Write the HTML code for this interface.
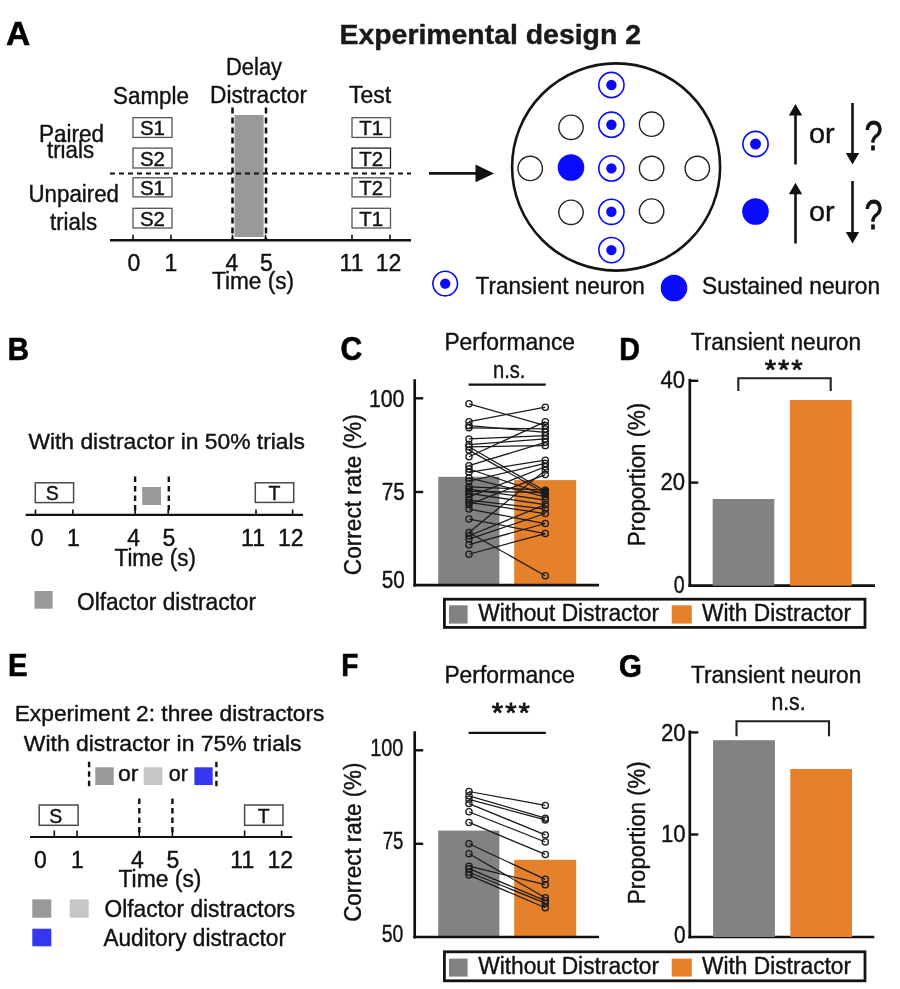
<!DOCTYPE html>
<html lang="en"><head><meta charset="utf-8"><title>Experimental design 2</title>
<style>
html,body{margin:0;padding:0;background:#fff;}
body{width:900px;height:989px;overflow:hidden;}
svg{display:block;filter:blur(0.45px);font-family:"Liberation Sans",Arial,Helvetica,sans-serif;}
text{stroke:#151515;stroke-width:0.4px;stroke-linejoin:round;}
</style></head><body>
<svg width="900" height="989" viewBox="0 0 900 989">
<rect x="0" y="0" width="900" height="989" fill="#ffffff"/>
<!-- Panel A -->
<text x="6.00" y="44.70" font-size="33" textLength="24.26" lengthAdjust="spacingAndGlyphs" font-weight="bold" fill="#000" style="stroke:#000;stroke-width:0.6px">A</text>
<text x="339.50" y="43.60" font-size="27" textLength="301.47" lengthAdjust="spacingAndGlyphs" font-weight="bold" fill="#1a1a1a">Experimental design 2</text>
<text x="113.00" y="104.00" font-size="23" textLength="75.98" lengthAdjust="spacingAndGlyphs" fill="#111">Sample</text>
<text x="226.00" y="75.40" font-size="23" textLength="56.05" lengthAdjust="spacingAndGlyphs" fill="#111">Delay</text>
<text x="210.00" y="103.40" font-size="23" textLength="97.03" lengthAdjust="spacingAndGlyphs" fill="#111">Distractor</text>
<text x="349.00" y="103.00" font-size="23" textLength="42.06" lengthAdjust="spacingAndGlyphs" fill="#111">Test</text>
<rect x="133.00" y="117.70" width="39.00" height="19.70" fill="#fff" stroke="#555" stroke-width="1.3"/>
<text x="139.94" y="135.20" font-size="20.5" textLength="25.07" lengthAdjust="spacingAndGlyphs" fill="#111">S1</text>
<rect x="352.00" y="117.70" width="38.50" height="19.70" fill="#fff" stroke="#555" stroke-width="1.3"/>
<text x="359.31" y="135.20" font-size="20.5" textLength="23.92" lengthAdjust="spacingAndGlyphs" fill="#111">T1</text>
<rect x="133.00" y="148.10" width="39.00" height="19.90" fill="#fff" stroke="#555" stroke-width="1.3"/>
<text x="139.94" y="165.80" font-size="20.5" textLength="25.07" lengthAdjust="spacingAndGlyphs" fill="#111">S2</text>
<rect x="352.00" y="148.10" width="38.50" height="19.90" fill="#fff" stroke="#222" stroke-width="1.3"/>
<text x="359.31" y="165.80" font-size="20.5" textLength="23.92" lengthAdjust="spacingAndGlyphs" fill="#111">T2</text>
<rect x="133.00" y="177.80" width="39.00" height="19.10" fill="#fff" stroke="#555" stroke-width="1.3"/>
<text x="139.94" y="194.70" font-size="20.5" textLength="25.07" lengthAdjust="spacingAndGlyphs" fill="#111">S1</text>
<rect x="352.00" y="177.80" width="38.50" height="19.10" fill="#fff" stroke="#555" stroke-width="1.3"/>
<text x="359.31" y="194.70" font-size="20.5" textLength="23.92" lengthAdjust="spacingAndGlyphs" fill="#111">T2</text>
<rect x="133.00" y="208.30" width="39.00" height="19.70" fill="#fff" stroke="#555" stroke-width="1.3"/>
<text x="139.94" y="225.80" font-size="20.5" textLength="25.07" lengthAdjust="spacingAndGlyphs" fill="#111">S2</text>
<rect x="352.00" y="208.30" width="38.50" height="19.70" fill="#fff" stroke="#555" stroke-width="1.3"/>
<text x="359.31" y="225.80" font-size="20.5" textLength="23.92" lengthAdjust="spacingAndGlyphs" fill="#111">T1</text>
<rect x="234.50" y="115.00" width="29.10" height="122.00" fill="#999999"/>
<line x1="110.00" y1="173.50" x2="411.00" y2="173.50" stroke="#111" stroke-width="2" stroke-dasharray="5 4" stroke-linecap="butt"/>
<line x1="232.50" y1="107.50" x2="232.50" y2="240.00" stroke="#111" stroke-width="2.5" stroke-dasharray="6 4" stroke-linecap="butt"/>
<line x1="266.00" y1="107.50" x2="266.00" y2="240.00" stroke="#111" stroke-width="2.5" stroke-dasharray="6 4" stroke-linecap="butt"/>
<line x1="110.00" y1="240.20" x2="411.00" y2="240.20" stroke="#111" stroke-width="2.4" stroke-linecap="butt"/>
<line x1="133.00" y1="234.80" x2="133.00" y2="240.00" stroke="#111" stroke-width="1.6" stroke-linecap="butt"/>
<line x1="171.00" y1="234.80" x2="171.00" y2="240.00" stroke="#111" stroke-width="1.6" stroke-linecap="butt"/>
<line x1="232.50" y1="234.80" x2="232.50" y2="240.00" stroke="#111" stroke-width="1.6" stroke-linecap="butt"/>
<line x1="265.50" y1="234.80" x2="265.50" y2="240.00" stroke="#111" stroke-width="1.6" stroke-linecap="butt"/>
<line x1="352.00" y1="234.80" x2="352.00" y2="240.00" stroke="#111" stroke-width="1.6" stroke-linecap="butt"/>
<line x1="390.00" y1="234.80" x2="390.00" y2="240.00" stroke="#111" stroke-width="1.6" stroke-linecap="butt"/>
<text x="127.43" y="270.80" font-size="23" textLength="12.79" lengthAdjust="spacingAndGlyphs" fill="#111">0</text>
<text x="164.62" y="270.80" font-size="23" textLength="12.79" lengthAdjust="spacingAndGlyphs" fill="#111">1</text>
<text x="225.62" y="270.80" font-size="23" textLength="12.79" lengthAdjust="spacingAndGlyphs" fill="#111">4</text>
<text x="259.93" y="270.80" font-size="23" textLength="12.79" lengthAdjust="spacingAndGlyphs" fill="#111">5</text>
<text x="339.56" y="270.80" font-size="23" textLength="23.88" lengthAdjust="spacingAndGlyphs" fill="#111">11</text>
<text x="375.79" y="270.80" font-size="23" textLength="25.58" lengthAdjust="spacingAndGlyphs" fill="#111">12</text>
<text x="212.00" y="289.00" font-size="23" textLength="81.97" lengthAdjust="spacingAndGlyphs" fill="#111">Time (s)</text>
<text x="39.00" y="141.60" font-size="23" textLength="64.98" lengthAdjust="spacingAndGlyphs" fill="#111">Paired</text>
<text x="47.00" y="158.20" font-size="23" textLength="47.06" lengthAdjust="spacingAndGlyphs" fill="#111">trials</text>
<text x="28.50" y="201.50" font-size="23" textLength="90.46" lengthAdjust="spacingAndGlyphs" fill="#111">Unpaired</text>
<text x="50.00" y="230.00" font-size="23" textLength="47.06" lengthAdjust="spacingAndGlyphs" fill="#111">trials</text>
<line x1="429.00" y1="173.40" x2="478.00" y2="173.40" stroke="#111" stroke-width="2.7" stroke-linecap="butt"/>
<polygon points="494.00,173.40 475.50,164.50 475.50,182.30" fill="#111"/>
<ellipse cx="616.1" cy="167" rx="104" ry="103.6" fill="none" stroke="#141414" stroke-width="2.6"/>
<circle cx="611.40" cy="85.00" r="12.60" fill="#fff" stroke="#0a0aff" stroke-width="1.6"/>
<circle cx="611.40" cy="85.00" r="5.20" fill="#0a0aff"/>
<circle cx="611.40" cy="124.70" r="12.60" fill="#fff" stroke="#0a0aff" stroke-width="1.6"/>
<circle cx="611.40" cy="124.70" r="5.20" fill="#0a0aff"/>
<circle cx="611.40" cy="168.40" r="12.60" fill="#fff" stroke="#0a0aff" stroke-width="1.6"/>
<circle cx="611.40" cy="168.40" r="5.20" fill="#0a0aff"/>
<circle cx="611.40" cy="211.80" r="12.60" fill="#fff" stroke="#0a0aff" stroke-width="1.6"/>
<circle cx="611.40" cy="211.80" r="5.20" fill="#0a0aff"/>
<circle cx="611.40" cy="250.10" r="12.60" fill="#fff" stroke="#0a0aff" stroke-width="1.6"/>
<circle cx="611.40" cy="250.10" r="5.20" fill="#0a0aff"/>
<circle cx="571.00" cy="127.30" r="12.20" fill="#fff" stroke="#222" stroke-width="1.4"/>
<circle cx="651.60" cy="124.20" r="12.20" fill="#fff" stroke="#222" stroke-width="1.4"/>
<circle cx="530.20" cy="168.40" r="12.20" fill="#fff" stroke="#222" stroke-width="1.4"/>
<circle cx="651.60" cy="168.40" r="12.20" fill="#fff" stroke="#222" stroke-width="1.4"/>
<circle cx="697.30" cy="168.40" r="12.20" fill="#fff" stroke="#222" stroke-width="1.4"/>
<circle cx="571.00" cy="212.30" r="12.20" fill="#fff" stroke="#222" stroke-width="1.4"/>
<circle cx="651.60" cy="211.10" r="12.20" fill="#fff" stroke="#222" stroke-width="1.4"/>
<circle cx="571.00" cy="167.50" r="13.30" fill="#0a0aff"/>
<circle cx="445.20" cy="283.60" r="12.30" fill="#fff" stroke="#0a0aff" stroke-width="1.6"/>
<circle cx="445.20" cy="283.60" r="5.20" fill="#0a0aff"/>
<text x="475.60" y="293.50" font-size="24" textLength="169.15" lengthAdjust="spacingAndGlyphs" fill="#111">Transient neuron</text>
<circle cx="674.00" cy="288.00" r="13.30" fill="#0a0aff"/>
<text x="702.00" y="294.00" font-size="24" textLength="178.02" lengthAdjust="spacingAndGlyphs" fill="#111">Sustained neuron</text>
<circle cx="755.50" cy="144.00" r="12.60" fill="#fff" stroke="#0a0aff" stroke-width="1.6"/>
<circle cx="755.50" cy="144.00" r="5.50" fill="#0a0aff"/>
<circle cx="755.50" cy="211.50" r="13.30" fill="#0a0aff"/>
<line x1="795.50" y1="112.00" x2="795.50" y2="164.50" stroke="#111" stroke-width="2.6" stroke-linecap="butt"/>
<polygon points="795.50,104.00 788.80,115.50 802.20,115.50" fill="#111"/>
<line x1="852.50" y1="103.00" x2="852.50" y2="156.50" stroke="#111" stroke-width="2.6" stroke-linecap="butt"/>
<polygon points="852.50,164.50 845.80,153.00 859.20,153.00" fill="#111"/>
<line x1="795.50" y1="190.70" x2="795.50" y2="243.50" stroke="#111" stroke-width="2.6" stroke-linecap="butt"/>
<polygon points="795.50,182.70 788.80,194.20 802.20,194.20" fill="#111"/>
<line x1="852.50" y1="181.00" x2="852.50" y2="235.50" stroke="#111" stroke-width="2.6" stroke-linecap="butt"/>
<polygon points="852.50,243.50 845.80,232.00 859.20,232.00" fill="#111"/>
<text x="809.00" y="143.20" font-size="27" textLength="25.71" lengthAdjust="spacingAndGlyphs" fill="#111">or</text>
<text x="809.00" y="221.30" font-size="27" textLength="25.71" lengthAdjust="spacingAndGlyphs" fill="#111">or</text>
<text x="864.50" y="150.00" font-size="42" textLength="17.99" lengthAdjust="spacingAndGlyphs" fill="#111" style="stroke-width:0.8px">?</text>
<text x="864.50" y="228.50" font-size="42" textLength="17.99" lengthAdjust="spacingAndGlyphs" fill="#111" style="stroke-width:0.8px">?</text>
<!-- Panel B -->
<text x="7.80" y="359.80" font-size="31" textLength="21.21" lengthAdjust="spacingAndGlyphs" font-weight="bold" fill="#000" style="stroke:#000;stroke-width:0.6px">B</text>
<text x="28.40" y="448.70" font-size="22" textLength="276.65" lengthAdjust="spacingAndGlyphs" fill="#111">With distractor in 50% trials</text>
<rect x="35.30" y="482.80" width="38.30" height="19.80" fill="#fff" stroke="#4a4a4a" stroke-width="1.5"/>
<text x="45.75" y="499.80" font-size="19.5" textLength="13.01" lengthAdjust="spacingAndGlyphs" fill="#111">S</text>
<rect x="255.30" y="482.80" width="38.40" height="19.60" fill="#fff" stroke="#4a4a4a" stroke-width="1.5"/>
<text x="268.56" y="499.60" font-size="19.5" textLength="11.91" lengthAdjust="spacingAndGlyphs" fill="#111">T</text>
<line x1="25.60" y1="514.80" x2="303.00" y2="514.80" stroke="#111" stroke-width="2.2" stroke-linecap="butt"/>
<line x1="35.50" y1="509.50" x2="35.50" y2="514.80" stroke="#111" stroke-width="1.6" stroke-linecap="butt"/>
<line x1="72.90" y1="509.50" x2="72.90" y2="514.80" stroke="#111" stroke-width="1.6" stroke-linecap="butt"/>
<line x1="135.10" y1="509.50" x2="135.10" y2="514.80" stroke="#111" stroke-width="1.6" stroke-linecap="butt"/>
<line x1="168.20" y1="509.50" x2="168.20" y2="514.80" stroke="#111" stroke-width="1.6" stroke-linecap="butt"/>
<line x1="256.00" y1="509.50" x2="256.00" y2="514.80" stroke="#111" stroke-width="1.6" stroke-linecap="butt"/>
<line x1="292.60" y1="509.50" x2="292.60" y2="514.80" stroke="#111" stroke-width="1.6" stroke-linecap="butt"/>
<line x1="135.10" y1="476.40" x2="135.10" y2="514.00" stroke="#111" stroke-width="2.4" stroke-dasharray="5.5 4" stroke-linecap="butt"/>
<line x1="168.80" y1="476.40" x2="168.80" y2="514.00" stroke="#111" stroke-width="2.4" stroke-dasharray="5.5 4" stroke-linecap="butt"/>
<rect x="142.20" y="487.00" width="18.80" height="18.00" fill="#999999"/>
<text x="30.83" y="546.30" font-size="23" textLength="12.79" lengthAdjust="spacingAndGlyphs" fill="#111">0</text>
<text x="67.12" y="546.30" font-size="23" textLength="12.79" lengthAdjust="spacingAndGlyphs" fill="#111">1</text>
<text x="127.22" y="546.30" font-size="23" textLength="12.79" lengthAdjust="spacingAndGlyphs" fill="#111">4</text>
<text x="162.43" y="546.30" font-size="23" textLength="12.79" lengthAdjust="spacingAndGlyphs" fill="#111">5</text>
<text x="241.06" y="546.30" font-size="23" textLength="23.88" lengthAdjust="spacingAndGlyphs" fill="#111">11</text>
<text x="277.99" y="546.30" font-size="23" textLength="25.58" lengthAdjust="spacingAndGlyphs" fill="#111">12</text>
<text x="114.50" y="566.20" font-size="23" textLength="81.47" lengthAdjust="spacingAndGlyphs" fill="#111">Time (s)</text>
<rect x="34.50" y="591.00" width="18.10" height="17.70" fill="#999999"/>
<text x="77.00" y="609.80" font-size="23" textLength="179.00" lengthAdjust="spacingAndGlyphs" fill="#111">Olfactor distractor</text>
<!-- Panel C -->
<text x="340.40" y="359.80" font-size="33" textLength="21.76" lengthAdjust="spacingAndGlyphs" font-weight="bold" fill="#000" style="stroke:#000;stroke-width:0.6px">C</text>
<text x="444.40" y="350.20" font-size="23" textLength="130.64" lengthAdjust="spacingAndGlyphs" fill="#111">Performance</text>
<text x="493.00" y="377.60" font-size="23" textLength="32.45" lengthAdjust="spacingAndGlyphs" fill="#111">n.s.</text>
<rect x="438.20" y="476.80" width="61.20" height="108.20" fill="#828282"/>
<rect x="514.20" y="480.10" width="62.00" height="104.90" fill="#e5812b"/>
<line x1="468.60" y1="384.60" x2="545.80" y2="384.60" stroke="#111" stroke-width="2.2" stroke-linecap="butt"/>
<line x1="469.00" y1="403.81" x2="545.30" y2="425.62" stroke="#1a1a1a" stroke-width="1.25" stroke-linecap="butt"/>
<line x1="469.00" y1="421.61" x2="545.30" y2="407.15" stroke="#1a1a1a" stroke-width="1.25" stroke-linecap="butt"/>
<line x1="469.00" y1="425.62" x2="545.30" y2="432.29" stroke="#1a1a1a" stroke-width="1.25" stroke-linecap="butt"/>
<line x1="469.00" y1="427.84" x2="545.30" y2="428.95" stroke="#1a1a1a" stroke-width="1.25" stroke-linecap="butt"/>
<line x1="469.00" y1="438.97" x2="545.30" y2="435.63" stroke="#1a1a1a" stroke-width="1.25" stroke-linecap="butt"/>
<line x1="469.00" y1="444.53" x2="545.30" y2="438.97" stroke="#1a1a1a" stroke-width="1.25" stroke-linecap="butt"/>
<line x1="469.00" y1="446.76" x2="545.30" y2="445.64" stroke="#1a1a1a" stroke-width="1.25" stroke-linecap="butt"/>
<line x1="469.00" y1="450.09" x2="545.30" y2="493.48" stroke="#1a1a1a" stroke-width="1.25" stroke-linecap="butt"/>
<line x1="469.00" y1="456.77" x2="545.30" y2="421.61" stroke="#1a1a1a" stroke-width="1.25" stroke-linecap="butt"/>
<line x1="469.00" y1="465.67" x2="545.30" y2="442.31" stroke="#1a1a1a" stroke-width="1.25" stroke-linecap="butt"/>
<line x1="469.00" y1="446.76" x2="545.30" y2="491.26" stroke="#1a1a1a" stroke-width="1.25" stroke-linecap="butt"/>
<line x1="469.00" y1="469.01" x2="545.30" y2="494.60" stroke="#1a1a1a" stroke-width="1.25" stroke-linecap="butt"/>
<line x1="469.00" y1="472.35" x2="545.30" y2="460.11" stroke="#1a1a1a" stroke-width="1.25" stroke-linecap="butt"/>
<line x1="469.00" y1="477.91" x2="545.30" y2="496.82" stroke="#1a1a1a" stroke-width="1.25" stroke-linecap="butt"/>
<line x1="469.00" y1="481.25" x2="545.30" y2="463.44" stroke="#1a1a1a" stroke-width="1.25" stroke-linecap="butt"/>
<line x1="469.00" y1="486.81" x2="545.30" y2="490.15" stroke="#1a1a1a" stroke-width="1.25" stroke-linecap="butt"/>
<line x1="469.00" y1="489.03" x2="545.30" y2="500.16" stroke="#1a1a1a" stroke-width="1.25" stroke-linecap="butt"/>
<line x1="469.00" y1="491.26" x2="545.30" y2="492.37" stroke="#1a1a1a" stroke-width="1.25" stroke-linecap="butt"/>
<line x1="469.00" y1="493.48" x2="545.30" y2="504.61" stroke="#1a1a1a" stroke-width="1.25" stroke-linecap="butt"/>
<line x1="469.00" y1="496.82" x2="545.30" y2="466.78" stroke="#1a1a1a" stroke-width="1.25" stroke-linecap="butt"/>
<line x1="469.00" y1="500.16" x2="545.30" y2="509.06" stroke="#1a1a1a" stroke-width="1.25" stroke-linecap="butt"/>
<line x1="469.00" y1="502.39" x2="545.30" y2="513.51" stroke="#1a1a1a" stroke-width="1.25" stroke-linecap="butt"/>
<line x1="469.00" y1="504.61" x2="545.30" y2="474.57" stroke="#1a1a1a" stroke-width="1.25" stroke-linecap="butt"/>
<line x1="469.00" y1="509.06" x2="545.30" y2="523.52" stroke="#1a1a1a" stroke-width="1.25" stroke-linecap="butt"/>
<line x1="469.00" y1="519.07" x2="545.30" y2="533.54" stroke="#1a1a1a" stroke-width="1.25" stroke-linecap="butt"/>
<line x1="469.00" y1="532.43" x2="545.30" y2="470.12" stroke="#1a1a1a" stroke-width="1.25" stroke-linecap="butt"/>
<line x1="469.00" y1="535.76" x2="545.30" y2="504.61" stroke="#1a1a1a" stroke-width="1.25" stroke-linecap="butt"/>
<line x1="469.00" y1="539.10" x2="545.30" y2="513.51" stroke="#1a1a1a" stroke-width="1.25" stroke-linecap="butt"/>
<line x1="469.00" y1="544.66" x2="545.30" y2="523.52" stroke="#1a1a1a" stroke-width="1.25" stroke-linecap="butt"/>
<line x1="469.00" y1="554.23" x2="545.30" y2="533.54" stroke="#1a1a1a" stroke-width="1.25" stroke-linecap="butt"/>
<line x1="469.00" y1="532.43" x2="545.30" y2="575.82" stroke="#1a1a1a" stroke-width="1.25" stroke-linecap="butt"/>
<circle cx="469.00" cy="403.81" r="3.10" fill="none" stroke="#1a1a1a" stroke-width="1.25"/>
<circle cx="469.00" cy="421.61" r="3.10" fill="none" stroke="#1a1a1a" stroke-width="1.25"/>
<circle cx="469.00" cy="425.62" r="3.10" fill="none" stroke="#1a1a1a" stroke-width="1.25"/>
<circle cx="469.00" cy="427.84" r="3.10" fill="none" stroke="#1a1a1a" stroke-width="1.25"/>
<circle cx="469.00" cy="438.97" r="3.10" fill="none" stroke="#1a1a1a" stroke-width="1.25"/>
<circle cx="469.00" cy="444.53" r="3.10" fill="none" stroke="#1a1a1a" stroke-width="1.25"/>
<circle cx="469.00" cy="446.76" r="3.10" fill="none" stroke="#1a1a1a" stroke-width="1.25"/>
<circle cx="469.00" cy="450.09" r="3.10" fill="none" stroke="#1a1a1a" stroke-width="1.25"/>
<circle cx="469.00" cy="456.77" r="3.10" fill="none" stroke="#1a1a1a" stroke-width="1.25"/>
<circle cx="469.00" cy="465.67" r="3.10" fill="none" stroke="#1a1a1a" stroke-width="1.25"/>
<circle cx="469.00" cy="469.01" r="3.10" fill="none" stroke="#1a1a1a" stroke-width="1.25"/>
<circle cx="469.00" cy="472.35" r="3.10" fill="none" stroke="#1a1a1a" stroke-width="1.25"/>
<circle cx="469.00" cy="477.91" r="3.10" fill="none" stroke="#1a1a1a" stroke-width="1.25"/>
<circle cx="469.00" cy="481.25" r="3.10" fill="none" stroke="#1a1a1a" stroke-width="1.25"/>
<circle cx="469.00" cy="486.81" r="3.10" fill="none" stroke="#1a1a1a" stroke-width="1.25"/>
<circle cx="469.00" cy="489.03" r="3.10" fill="none" stroke="#1a1a1a" stroke-width="1.25"/>
<circle cx="469.00" cy="491.26" r="3.10" fill="none" stroke="#1a1a1a" stroke-width="1.25"/>
<circle cx="469.00" cy="493.48" r="3.10" fill="none" stroke="#1a1a1a" stroke-width="1.25"/>
<circle cx="469.00" cy="496.82" r="3.10" fill="none" stroke="#1a1a1a" stroke-width="1.25"/>
<circle cx="469.00" cy="500.16" r="3.10" fill="none" stroke="#1a1a1a" stroke-width="1.25"/>
<circle cx="469.00" cy="502.39" r="3.10" fill="none" stroke="#1a1a1a" stroke-width="1.25"/>
<circle cx="469.00" cy="504.61" r="3.10" fill="none" stroke="#1a1a1a" stroke-width="1.25"/>
<circle cx="469.00" cy="509.06" r="3.10" fill="none" stroke="#1a1a1a" stroke-width="1.25"/>
<circle cx="469.00" cy="519.07" r="3.10" fill="none" stroke="#1a1a1a" stroke-width="1.25"/>
<circle cx="469.00" cy="532.43" r="3.10" fill="none" stroke="#1a1a1a" stroke-width="1.25"/>
<circle cx="469.00" cy="535.76" r="3.10" fill="none" stroke="#1a1a1a" stroke-width="1.25"/>
<circle cx="469.00" cy="539.10" r="3.10" fill="none" stroke="#1a1a1a" stroke-width="1.25"/>
<circle cx="469.00" cy="544.66" r="3.10" fill="none" stroke="#1a1a1a" stroke-width="1.25"/>
<circle cx="469.00" cy="554.23" r="3.10" fill="none" stroke="#1a1a1a" stroke-width="1.25"/>
<circle cx="545.30" cy="407.15" r="3.10" fill="none" stroke="#1a1a1a" stroke-width="1.25"/>
<circle cx="545.30" cy="421.61" r="3.10" fill="none" stroke="#1a1a1a" stroke-width="1.25"/>
<circle cx="545.30" cy="425.62" r="3.10" fill="none" stroke="#1a1a1a" stroke-width="1.25"/>
<circle cx="545.30" cy="428.95" r="3.10" fill="none" stroke="#1a1a1a" stroke-width="1.25"/>
<circle cx="545.30" cy="432.29" r="3.10" fill="none" stroke="#1a1a1a" stroke-width="1.25"/>
<circle cx="545.30" cy="435.63" r="3.10" fill="none" stroke="#1a1a1a" stroke-width="1.25"/>
<circle cx="545.30" cy="438.97" r="3.10" fill="none" stroke="#1a1a1a" stroke-width="1.25"/>
<circle cx="545.30" cy="442.31" r="3.10" fill="none" stroke="#1a1a1a" stroke-width="1.25"/>
<circle cx="545.30" cy="445.64" r="3.10" fill="none" stroke="#1a1a1a" stroke-width="1.25"/>
<circle cx="545.30" cy="460.11" r="3.10" fill="none" stroke="#1a1a1a" stroke-width="1.25"/>
<circle cx="545.30" cy="463.44" r="3.10" fill="none" stroke="#1a1a1a" stroke-width="1.25"/>
<circle cx="545.30" cy="466.78" r="3.10" fill="none" stroke="#1a1a1a" stroke-width="1.25"/>
<circle cx="545.30" cy="470.12" r="3.10" fill="none" stroke="#1a1a1a" stroke-width="1.25"/>
<circle cx="545.30" cy="474.57" r="3.10" fill="none" stroke="#1a1a1a" stroke-width="1.25"/>
<circle cx="545.30" cy="490.15" r="3.10" fill="none" stroke="#1a1a1a" stroke-width="1.25"/>
<circle cx="545.30" cy="491.26" r="3.10" fill="none" stroke="#1a1a1a" stroke-width="1.25"/>
<circle cx="545.30" cy="492.37" r="3.10" fill="none" stroke="#1a1a1a" stroke-width="1.25"/>
<circle cx="545.30" cy="493.48" r="3.10" fill="none" stroke="#1a1a1a" stroke-width="1.25"/>
<circle cx="545.30" cy="494.60" r="3.10" fill="none" stroke="#1a1a1a" stroke-width="1.25"/>
<circle cx="545.30" cy="496.82" r="3.10" fill="none" stroke="#1a1a1a" stroke-width="1.25"/>
<circle cx="545.30" cy="500.16" r="3.10" fill="none" stroke="#1a1a1a" stroke-width="1.25"/>
<circle cx="545.30" cy="504.61" r="3.10" fill="none" stroke="#1a1a1a" stroke-width="1.25"/>
<circle cx="545.30" cy="509.06" r="3.10" fill="none" stroke="#1a1a1a" stroke-width="1.25"/>
<circle cx="545.30" cy="513.51" r="3.10" fill="none" stroke="#1a1a1a" stroke-width="1.25"/>
<circle cx="545.30" cy="523.52" r="3.10" fill="none" stroke="#1a1a1a" stroke-width="1.25"/>
<circle cx="545.30" cy="533.54" r="3.10" fill="none" stroke="#1a1a1a" stroke-width="1.25"/>
<circle cx="545.30" cy="575.82" r="3.10" fill="none" stroke="#1a1a1a" stroke-width="1.25"/>
<line x1="414.70" y1="379.20" x2="414.70" y2="586.55" stroke="#111" stroke-width="2.7" stroke-linecap="butt"/>
<line x1="413.35" y1="585.20" x2="599.00" y2="585.20" stroke="#111" stroke-width="2.7" stroke-linecap="butt"/>
<line x1="414.70" y1="398.30" x2="423.20" y2="398.30" stroke="#111" stroke-width="2.4" stroke-linecap="butt"/>
<line x1="414.70" y1="492.00" x2="423.20" y2="492.00" stroke="#111" stroke-width="2.4" stroke-linecap="butt"/>
<text x="368.90" y="407.00" font-size="23.5" textLength="35.56" lengthAdjust="spacingAndGlyphs" fill="#111">100</text>
<text x="381.70" y="500.10" font-size="23.5" textLength="23.01" lengthAdjust="spacingAndGlyphs" fill="#111">75</text>
<text x="381.70" y="587.50" font-size="23.5" textLength="23.01" lengthAdjust="spacingAndGlyphs" fill="#111">50</text>
<text transform="translate(360.90,575.20) rotate(-90)" font-size="23" textLength="160.96" lengthAdjust="spacingAndGlyphs" fill="#111">Correct rate (%)</text>
<rect x="444.40" y="599.20" width="420.60" height="28.20" fill="#fff" stroke="#141414" stroke-width="2.8"/>
<rect x="449.00" y="605.30" width="18.60" height="18.30" fill="#828282"/>
<text x="478.20" y="620.70" font-size="23" textLength="180.82" lengthAdjust="spacingAndGlyphs" fill="#111">Without Distractor</text>
<rect x="671.70" y="605.30" width="20.10" height="18.30" fill="#e5812b"/>
<text x="702.00" y="620.70" font-size="23" textLength="149.04" lengthAdjust="spacingAndGlyphs" fill="#111">With Distractor</text>
<!-- Panel D -->
<text x="619.30" y="360.20" font-size="32" textLength="20.69" lengthAdjust="spacingAndGlyphs" font-weight="bold" fill="#000" style="stroke:#000;stroke-width:0.6px">D</text>
<text x="690.70" y="350.00" font-size="23" textLength="170.32" lengthAdjust="spacingAndGlyphs" fill="#111">Transient neuron</text>
<text x="764.73" y="379.10" font-size="27" textLength="11.35" lengthAdjust="spacingAndGlyphs" fill="#111" style="stroke-width:0.8px">*</text>
<text x="777.93" y="379.10" font-size="27" textLength="11.35" lengthAdjust="spacingAndGlyphs" fill="#111" style="stroke-width:0.8px">*</text>
<text x="791.33" y="379.10" font-size="27" textLength="11.35" lengthAdjust="spacingAndGlyphs" fill="#111" style="stroke-width:0.8px">*</text>
<polyline points="738.3,391 738.3,378.2 830.7,378.2 830.7,391" fill="none" stroke="#222" stroke-width="2.1"/>
<line x1="689.80" y1="378.80" x2="689.80" y2="587.05" stroke="#111" stroke-width="2.7" stroke-linecap="butt"/>
<line x1="688.45" y1="585.70" x2="875.00" y2="585.70" stroke="#111" stroke-width="2.7" stroke-linecap="butt"/>
<line x1="689.80" y1="380.80" x2="698.30" y2="380.80" stroke="#111" stroke-width="2.4" stroke-linecap="butt"/>
<line x1="689.80" y1="482.60" x2="698.30" y2="482.60" stroke="#111" stroke-width="2.4" stroke-linecap="butt"/>
<text x="660.50" y="387.80" font-size="23.5" textLength="24.51" lengthAdjust="spacingAndGlyphs" fill="#111">40</text>
<text x="660.50" y="490.00" font-size="23.5" textLength="24.51" lengthAdjust="spacingAndGlyphs" fill="#111">20</text>
<text x="673.80" y="592.70" font-size="23.5" textLength="10.95" lengthAdjust="spacingAndGlyphs" fill="#111">0</text>
<text transform="translate(645.30,546.20) rotate(-90)" font-size="23" textLength="143.43" lengthAdjust="spacingAndGlyphs" fill="#111">Proportion (%)</text>
<rect x="712.70" y="499.00" width="61.60" height="86.70" fill="#828282"/>
<rect x="790.00" y="400.00" width="61.70" height="185.70" fill="#e5812b"/>
<!-- Panel E -->
<text x="8.00" y="675.70" font-size="31" textLength="19.55" lengthAdjust="spacingAndGlyphs" font-weight="bold" fill="#000" style="stroke:#000;stroke-width:0.6px">E</text>
<text x="14.70" y="721.00" font-size="22" textLength="309.76" lengthAdjust="spacingAndGlyphs" fill="#111">Experiment 2: three distractors</text>
<text x="23.80" y="750.80" font-size="22" textLength="277.65" lengthAdjust="spacingAndGlyphs" fill="#111">With distractor in 75% trials</text>
<line x1="89.10" y1="761.80" x2="89.10" y2="788.60" stroke="#111" stroke-width="2.4" stroke-dasharray="5.5 4" stroke-linecap="butt"/>
<line x1="216.40" y1="761.80" x2="216.40" y2="788.60" stroke="#111" stroke-width="2.4" stroke-dasharray="5.5 4" stroke-linecap="butt"/>
<rect x="95.30" y="767.30" width="18.40" height="17.70" fill="#999999"/>
<rect x="143.70" y="767.30" width="18.70" height="17.70" fill="#c6c6c6"/>
<rect x="194.40" y="767.30" width="18.30" height="17.70" fill="#3636f0"/>
<text x="118.00" y="781.30" font-size="22" textLength="20.53" lengthAdjust="spacingAndGlyphs" fill="#111">or</text>
<text x="168.70" y="781.30" font-size="22" textLength="19.24" lengthAdjust="spacingAndGlyphs" fill="#111">or</text>
<line x1="139.30" y1="798.50" x2="139.30" y2="836.00" stroke="#111" stroke-width="2.4" stroke-dasharray="5.5 4" stroke-linecap="butt"/>
<line x1="172.40" y1="798.50" x2="172.40" y2="836.00" stroke="#111" stroke-width="2.4" stroke-dasharray="5.5 4" stroke-linecap="butt"/>
<rect x="39.20" y="805.00" width="38.90" height="20.30" fill="#fff" stroke="#4a4a4a" stroke-width="1.5"/>
<text x="49.15" y="822.50" font-size="19.5" textLength="13.01" lengthAdjust="spacingAndGlyphs" fill="#111">S</text>
<rect x="244.60" y="805.00" width="38.40" height="20.30" fill="#fff" stroke="#4a4a4a" stroke-width="1.5"/>
<text x="257.86" y="822.50" font-size="19.5" textLength="11.91" lengthAdjust="spacingAndGlyphs" fill="#111">T</text>
<line x1="30.00" y1="837.00" x2="292.30" y2="837.00" stroke="#111" stroke-width="2.2" stroke-linecap="butt"/>
<line x1="54.30" y1="830.50" x2="54.30" y2="837.00" stroke="#111" stroke-width="1.6" stroke-linecap="butt"/>
<line x1="77.00" y1="830.50" x2="77.00" y2="837.00" stroke="#111" stroke-width="1.6" stroke-linecap="butt"/>
<line x1="139.30" y1="830.50" x2="139.30" y2="837.00" stroke="#111" stroke-width="1.6" stroke-linecap="butt"/>
<line x1="172.40" y1="830.50" x2="172.40" y2="837.00" stroke="#111" stroke-width="1.6" stroke-linecap="butt"/>
<line x1="244.60" y1="830.50" x2="244.60" y2="837.00" stroke="#111" stroke-width="1.6" stroke-linecap="butt"/>
<line x1="281.60" y1="830.50" x2="281.60" y2="837.00" stroke="#111" stroke-width="1.6" stroke-linecap="butt"/>
<text x="34.12" y="867.70" font-size="23" textLength="12.79" lengthAdjust="spacingAndGlyphs" fill="#111">0</text>
<text x="70.92" y="867.70" font-size="23" textLength="12.79" lengthAdjust="spacingAndGlyphs" fill="#111">1</text>
<text x="131.12" y="867.70" font-size="23" textLength="12.79" lengthAdjust="spacingAndGlyphs" fill="#111">4</text>
<text x="166.43" y="867.70" font-size="23" textLength="12.79" lengthAdjust="spacingAndGlyphs" fill="#111">5</text>
<text x="230.36" y="867.70" font-size="23" textLength="23.88" lengthAdjust="spacingAndGlyphs" fill="#111">11</text>
<text x="267.49" y="867.70" font-size="23" textLength="25.58" lengthAdjust="spacingAndGlyphs" fill="#111">12</text>
<text x="118.50" y="886.70" font-size="23" textLength="82.97" lengthAdjust="spacingAndGlyphs" fill="#111">Time (s)</text>
<rect x="32.30" y="899.40" width="19.00" height="18.30" fill="#999999"/>
<rect x="69.70" y="899.40" width="19.00" height="18.30" fill="#c6c6c6"/>
<rect x="32.30" y="928.70" width="19.00" height="17.60" fill="#3636f0"/>
<text x="104.50" y="917.00" font-size="23" textLength="190.70" lengthAdjust="spacingAndGlyphs" fill="#111">Olfactor distractors</text>
<text x="103.40" y="945.60" font-size="23" textLength="182.57" lengthAdjust="spacingAndGlyphs" fill="#111">Auditory distractor</text>
<!-- Panel F -->
<text x="341.30" y="675.60" font-size="32" textLength="17.14" lengthAdjust="spacingAndGlyphs" font-weight="bold" fill="#000" style="stroke:#000;stroke-width:0.6px">F</text>
<text x="444.40" y="682.70" font-size="23" textLength="130.64" lengthAdjust="spacingAndGlyphs" fill="#111">Performance</text>
<text x="491.83" y="721.90" font-size="27" textLength="11.35" lengthAdjust="spacingAndGlyphs" fill="#111" style="stroke-width:0.8px">*</text>
<text x="505.23" y="721.90" font-size="27" textLength="11.35" lengthAdjust="spacingAndGlyphs" fill="#111" style="stroke-width:0.8px">*</text>
<text x="518.63" y="721.90" font-size="27" textLength="11.35" lengthAdjust="spacingAndGlyphs" fill="#111" style="stroke-width:0.8px">*</text>
<rect x="438.20" y="830.60" width="61.20" height="106.40" fill="#828282"/>
<rect x="514.20" y="859.80" width="62.00" height="77.20" fill="#e5812b"/>
<line x1="468.60" y1="732.80" x2="545.80" y2="732.80" stroke="#111" stroke-width="2.2" stroke-linecap="butt"/>
<line x1="469.00" y1="791.51" x2="545.30" y2="805.38" stroke="#1a1a1a" stroke-width="1.25" stroke-linecap="butt"/>
<line x1="469.00" y1="795.78" x2="545.30" y2="818.18" stroke="#1a1a1a" stroke-width="1.25" stroke-linecap="butt"/>
<line x1="469.00" y1="799.33" x2="545.30" y2="819.96" stroke="#1a1a1a" stroke-width="1.25" stroke-linecap="butt"/>
<line x1="469.00" y1="803.60" x2="545.30" y2="834.89" stroke="#1a1a1a" stroke-width="1.25" stroke-linecap="butt"/>
<line x1="469.00" y1="811.78" x2="545.30" y2="842.00" stroke="#1a1a1a" stroke-width="1.25" stroke-linecap="butt"/>
<line x1="469.00" y1="822.44" x2="545.30" y2="854.44" stroke="#1a1a1a" stroke-width="1.25" stroke-linecap="butt"/>
<line x1="469.00" y1="843.78" x2="545.30" y2="879.33" stroke="#1a1a1a" stroke-width="1.25" stroke-linecap="butt"/>
<line x1="469.00" y1="853.73" x2="545.30" y2="897.82" stroke="#1a1a1a" stroke-width="1.25" stroke-linecap="butt"/>
<line x1="469.00" y1="866.18" x2="545.30" y2="884.67" stroke="#1a1a1a" stroke-width="1.25" stroke-linecap="butt"/>
<line x1="469.00" y1="868.67" x2="545.30" y2="900.67" stroke="#1a1a1a" stroke-width="1.25" stroke-linecap="butt"/>
<line x1="469.00" y1="872.22" x2="545.30" y2="903.16" stroke="#1a1a1a" stroke-width="1.25" stroke-linecap="butt"/>
<line x1="469.00" y1="875.07" x2="545.30" y2="907.78" stroke="#1a1a1a" stroke-width="1.25" stroke-linecap="butt"/>
<circle cx="469.00" cy="791.51" r="3.10" fill="none" stroke="#1a1a1a" stroke-width="1.25"/>
<circle cx="469.00" cy="795.78" r="3.10" fill="none" stroke="#1a1a1a" stroke-width="1.25"/>
<circle cx="469.00" cy="799.33" r="3.10" fill="none" stroke="#1a1a1a" stroke-width="1.25"/>
<circle cx="469.00" cy="803.60" r="3.10" fill="none" stroke="#1a1a1a" stroke-width="1.25"/>
<circle cx="469.00" cy="811.78" r="3.10" fill="none" stroke="#1a1a1a" stroke-width="1.25"/>
<circle cx="469.00" cy="822.44" r="3.10" fill="none" stroke="#1a1a1a" stroke-width="1.25"/>
<circle cx="469.00" cy="843.78" r="3.10" fill="none" stroke="#1a1a1a" stroke-width="1.25"/>
<circle cx="469.00" cy="853.73" r="3.10" fill="none" stroke="#1a1a1a" stroke-width="1.25"/>
<circle cx="469.00" cy="866.18" r="3.10" fill="none" stroke="#1a1a1a" stroke-width="1.25"/>
<circle cx="469.00" cy="868.67" r="3.10" fill="none" stroke="#1a1a1a" stroke-width="1.25"/>
<circle cx="469.00" cy="872.22" r="3.10" fill="none" stroke="#1a1a1a" stroke-width="1.25"/>
<circle cx="469.00" cy="875.07" r="3.10" fill="none" stroke="#1a1a1a" stroke-width="1.25"/>
<circle cx="545.30" cy="805.38" r="3.10" fill="none" stroke="#1a1a1a" stroke-width="1.25"/>
<circle cx="545.30" cy="818.18" r="3.10" fill="none" stroke="#1a1a1a" stroke-width="1.25"/>
<circle cx="545.30" cy="819.96" r="3.10" fill="none" stroke="#1a1a1a" stroke-width="1.25"/>
<circle cx="545.30" cy="834.89" r="3.10" fill="none" stroke="#1a1a1a" stroke-width="1.25"/>
<circle cx="545.30" cy="842.00" r="3.10" fill="none" stroke="#1a1a1a" stroke-width="1.25"/>
<circle cx="545.30" cy="854.44" r="3.10" fill="none" stroke="#1a1a1a" stroke-width="1.25"/>
<circle cx="545.30" cy="879.33" r="3.10" fill="none" stroke="#1a1a1a" stroke-width="1.25"/>
<circle cx="545.30" cy="897.82" r="3.10" fill="none" stroke="#1a1a1a" stroke-width="1.25"/>
<circle cx="545.30" cy="884.67" r="3.10" fill="none" stroke="#1a1a1a" stroke-width="1.25"/>
<circle cx="545.30" cy="900.67" r="3.10" fill="none" stroke="#1a1a1a" stroke-width="1.25"/>
<circle cx="545.30" cy="903.16" r="3.10" fill="none" stroke="#1a1a1a" stroke-width="1.25"/>
<circle cx="545.30" cy="907.78" r="3.10" fill="none" stroke="#1a1a1a" stroke-width="1.25"/>
<line x1="414.70" y1="731.30" x2="414.70" y2="938.35" stroke="#111" stroke-width="2.7" stroke-linecap="butt"/>
<line x1="413.35" y1="937.00" x2="599.00" y2="937.00" stroke="#111" stroke-width="2.7" stroke-linecap="butt"/>
<line x1="414.70" y1="750.30" x2="423.20" y2="750.30" stroke="#111" stroke-width="2.4" stroke-linecap="butt"/>
<line x1="414.70" y1="843.80" x2="423.20" y2="843.80" stroke="#111" stroke-width="2.4" stroke-linecap="butt"/>
<text x="370.20" y="755.70" font-size="23.5" textLength="33.17" lengthAdjust="spacingAndGlyphs" fill="#111">100</text>
<text x="382.70" y="849.10" font-size="23.5" textLength="20.71" lengthAdjust="spacingAndGlyphs" fill="#111">75</text>
<text x="381.80" y="942.30" font-size="23.5" textLength="21.61" lengthAdjust="spacingAndGlyphs" fill="#111">50</text>
<text transform="translate(360.90,921.80) rotate(-90)" font-size="23" textLength="159.26" lengthAdjust="spacingAndGlyphs" fill="#111">Correct rate (%)</text>
<rect x="444.40" y="951.80" width="420.60" height="29.00" fill="#fff" stroke="#141414" stroke-width="2.8"/>
<rect x="449.00" y="958.60" width="18.60" height="18.00" fill="#828282"/>
<text x="478.20" y="974.20" font-size="23" textLength="180.82" lengthAdjust="spacingAndGlyphs" fill="#111">Without Distractor</text>
<rect x="671.70" y="958.60" width="20.10" height="18.00" fill="#e5812b"/>
<text x="702.00" y="974.20" font-size="23" textLength="149.04" lengthAdjust="spacingAndGlyphs" fill="#111">With Distractor</text>
<!-- Panel G -->
<text x="618.90" y="676.70" font-size="31" textLength="22.89" lengthAdjust="spacingAndGlyphs" font-weight="bold" fill="#000" style="stroke:#000;stroke-width:0.6px">G</text>
<text x="690.90" y="683.30" font-size="23" textLength="170.43" lengthAdjust="spacingAndGlyphs" fill="#111">Transient neuron</text>
<text x="771.40" y="710.00" font-size="23" textLength="34.25" lengthAdjust="spacingAndGlyphs" fill="#111">n.s.</text>
<polyline points="736.5,736.3 736.5,721.3 829,721.3 829,736.3" fill="none" stroke="#222" stroke-width="2.1"/>
<line x1="689.80" y1="730.40" x2="689.80" y2="938.35" stroke="#111" stroke-width="2.7" stroke-linecap="butt"/>
<line x1="688.45" y1="937.00" x2="874.30" y2="937.00" stroke="#111" stroke-width="2.7" stroke-linecap="butt"/>
<line x1="689.80" y1="732.40" x2="698.30" y2="732.40" stroke="#111" stroke-width="2.4" stroke-linecap="butt"/>
<line x1="689.80" y1="834.50" x2="698.30" y2="834.50" stroke="#111" stroke-width="2.4" stroke-linecap="butt"/>
<text x="661.00" y="740.90" font-size="23.5" textLength="24.71" lengthAdjust="spacingAndGlyphs" fill="#111">20</text>
<text x="661.00" y="842.00" font-size="23.5" textLength="24.71" lengthAdjust="spacingAndGlyphs" fill="#111">10</text>
<text x="674.00" y="943.10" font-size="23.5" textLength="11.65" lengthAdjust="spacingAndGlyphs" fill="#111">0</text>
<text transform="translate(645.20,904.00) rotate(-90)" font-size="23" textLength="142.53" lengthAdjust="spacingAndGlyphs" fill="#111">Proportion (%)</text>
<rect x="713.10" y="740.20" width="61.80" height="196.80" fill="#828282"/>
<rect x="790.30" y="769.00" width="61.70" height="168.00" fill="#e5812b"/>
</svg>
</body></html>
